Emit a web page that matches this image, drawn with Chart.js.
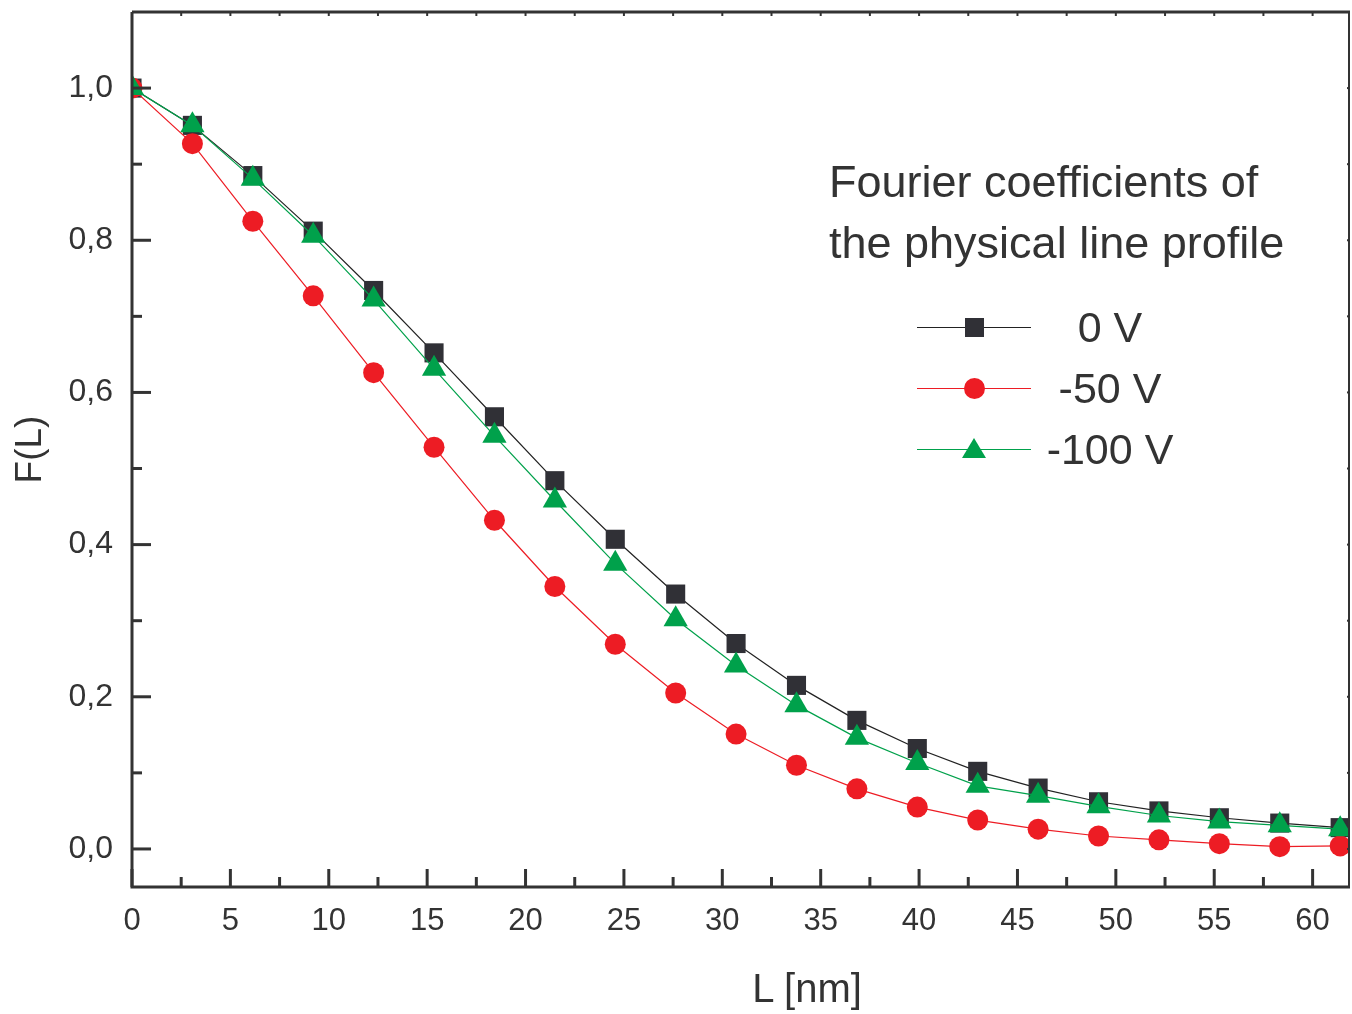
<!DOCTYPE html>
<html>
<head>
<meta charset="utf-8">
<script src="https://cdn.jsdelivr.net/npm/chart.js@4"></script>
<style>
  body { margin: 0; background: #fff; }
  #wrap { position: relative; width: 1352px; height: 1014px; font-family: "Liberation Sans", Arial, sans-serif; color: #333; }
  #note { position: absolute; left: 829px; top: 151px; font-size: 45px; line-height: 61px; white-space: nowrap; }
  #xtitle { position: absolute; left: 707px; width: 200px; top: 964px; text-align: center; font-size: 40px; line-height: 48px; }
  .row { position: absolute; left: 917px; height: 40px; width: 300px; }
  .row .ln { position: absolute; left: 0; top: 20px; width: 114px; height: 0; border-top: 1px solid; }
  .row .mk { position: absolute; }
  .row .tx { position: absolute; left: 118px; width: 150px; top: -3px; text-align: center; font-size: 43px; line-height: 46px; white-space: nowrap; }
</style>
</head>
<body>
<div id="wrap">
  <canvas id="myChart" width="1352" height="1014"></canvas>
  <div id="note">Fourier coefficients of<br>the physical line profile</div>
  <div id="xtitle">L [nm]</div>
  <div id="legend"></div>
</div>
<script>
// L values (nm)
const lValues = [0, 3.07, 6.14, 9.21, 12.28, 15.35, 18.42, 21.49, 24.56, 27.63, 30.70,
                 33.77, 36.84, 39.91, 42.98, 46.05, 49.12, 52.19, 55.26, 58.33, 61.40];

// F(L) for each bias voltage
const f0V = [1.0, 0.951, 0.885, 0.812, 0.734, 0.652, 0.568, 0.484, 0.407, 0.335, 0.270,
             0.215, 0.169, 0.132, 0.102, 0.080, 0.062, 0.050, 0.041, 0.034, 0.028];
const f50V = [1.0, 0.927, 0.825, 0.727, 0.626, 0.528, 0.432, 0.345, 0.269, 0.205, 0.151,
              0.110, 0.079, 0.055, 0.038, 0.026, 0.017, 0.012, 0.007, 0.003, 0.004];
const f100V = [1.0, 0.951, 0.881, 0.806, 0.722, 0.631, 0.543, 0.458, 0.375, 0.302, 0.241,
               0.189, 0.146, 0.113, 0.083, 0.070, 0.056, 0.044, 0.036, 0.031, 0.026];

const seriesLabels = ['0 V', '-50 V', '-100 V'];
const xTickValues = [0, 5, 10, 15, 20, 25, 30, 35, 40, 45, 50, 55, 60];
const yTickValues = [0, 0.2, 0.4, 0.6, 0.8, 1.0];

const axisColor = '#333';
const colors = ['#303036', '#ed1c24', '#00a14b'];
const lineColors = ['#222', '#ed1c24', '#00a14b'];

function toPoints(ys) {
    return lValues.map((x, i) => ({ x: x, y: ys[i] }));
}

// frame + inward tick marks, placed through the scales
const frameTicks = {
    id: 'frameTicks',
    afterDatasetsDraw(chart) {
        const { ctx, chartArea: a, scales: { x, y } } = chart;
        ctx.save();
        ctx.strokeStyle = axisColor;
        ctx.lineCap = 'butt';

        // bottom ticks
        ctx.lineWidth = 3;
        for (let v = 0; v <= 61; v += 2.5) {
            const px = x.getPixelForValue(v);
            const len = (v % 5 === 0) ? 18 : 10;
            ctx.beginPath(); ctx.moveTo(px, a.bottom); ctx.lineTo(px, a.bottom - len); ctx.stroke();
        }
        // left ticks
        for (let i = 0; i <= 10; i++) {
            const py = y.getPixelForValue(i / 10);
            const len = (i % 2 === 0) ? 19 : 10;
            ctx.beginPath(); ctx.moveTo(a.left, py); ctx.lineTo(a.left + len, py); ctx.stroke();
        }
        // top ticks (short)
        ctx.lineWidth = 2;
        for (let v = 2.5; v <= 61; v += 2.5) {
            const px = x.getPixelForValue(v);
            ctx.beginPath(); ctx.moveTo(px, a.top); ctx.lineTo(px, a.top + 4); ctx.stroke();
        }
        // right ticks (short)
        for (let i = 0; i <= 10; i++) {
            const py = y.getPixelForValue(i / 10);
            ctx.beginPath(); ctx.moveTo(a.right, py); ctx.lineTo(a.right - 3, py); ctx.stroke();
        }

        // frame
        ctx.lineWidth = 3;
        ctx.beginPath();
        ctx.moveTo(a.left, a.top); ctx.lineTo(a.left, a.bottom); ctx.lineTo(a.right, a.bottom);
        ctx.stroke();
        ctx.beginPath(); ctx.moveTo(a.left, a.top); ctx.lineTo(a.right, a.top); ctx.stroke();
        ctx.lineWidth = 2;
        ctx.beginPath(); ctx.moveTo(a.right - 1, a.top); ctx.lineTo(a.right - 1, a.bottom); ctx.stroke();
        ctx.restore();
    }
};

const ctx = document.getElementById('myChart');
const myChart = new Chart(ctx, {
    type: 'line',
    data: {
        datasets: [
            { label: seriesLabels[0], data: toPoints(f0V), order: 2,
              borderColor: lineColors[0], backgroundColor: colors[0],
              pointStyle: 'rect', pointRadius: 13.5, borderWidth: 1.2, pointBorderWidth: 0 },
            { label: seriesLabels[1], data: toPoints(f50V), order: 1,
              borderColor: lineColors[1], backgroundColor: colors[1],
              pointStyle: 'circle', pointRadius: 10.5, borderWidth: 1.2, pointBorderWidth: 0 },
            { label: seriesLabels[2], data: toPoints(f100V), order: 0,
              borderColor: lineColors[2], backgroundColor: colors[2],
              pointStyle: 'triangle', pointRadius: 14, borderWidth: 1.2, pointBorderWidth: 0 }
        ]
    },
    options: {
        responsive: false,
        animation: false,
        layout: { autoPadding: false, padding: { top: 12, right: 2, left: 0, bottom: 0 } },
        plugins: { legend: { display: false }, tooltip: { enabled: false } },
        scales: {
            x: {
                type: 'linear', min: 0, max: 61.9,
                grid: { display: false, drawTicks: false },
                border: { display: false },
                afterBuildTicks: s => { s.ticks = xTickValues.map(v => ({ value: v })); },
                afterFit: s => { s.height = 127; s.paddingLeft = 0; s.paddingRight = 0; },
                ticks: { color: axisColor, padding: 16, maxRotation: 0,
                         font: { family: 'Liberation Sans', size: 31 } },
                title: { display: false }
            },
            y: {
                type: 'linear', min: -0.05, max: 1.1,
                grid: { display: false, drawTicks: false },
                border: { display: false },
                afterBuildTicks: s => { s.ticks = yTickValues.map(v => ({ value: v })); },
                afterFit: s => { s.width = 132; s.paddingTop = 0; s.paddingBottom = 0; },
                ticks: { color: axisColor, padding: 19,
                         callback: v => v.toFixed(1).replace('.', ','),
                         font: { family: 'Liberation Sans', size: 32 } },
                title: { display: true, text: 'F(L)', color: axisColor,
                         padding: { top: 9, bottom: 0 },
                         font: { family: 'Liberation Sans', size: 37 } }
            }
        }
    },
    plugins: [frameTicks]
});

// legend rows built from the datasets
const legendRows = [327, 388, 449];
const legendEl = document.getElementById('legend');
seriesLabels.forEach((label, i) => {
    const row = document.createElement('div');
    row.className = 'row';
    row.style.top = (legendRows[i] - 20) + 'px';
    const ln = document.createElement('div');
    ln.className = 'ln';
    ln.style.borderTopColor = lineColors[i];
    const mk = document.createElement('div');
    mk.className = 'mk';
    if (i === 0) {
        Object.assign(mk.style, { left: '48px', top: '11px', width: '19px', height: '19px', background: colors[0] });
    } else if (i === 1) {
        Object.assign(mk.style, { left: '47px', top: '10px', width: '21px', height: '21px', borderRadius: '50%', background: colors[1] });
    } else {
        Object.assign(mk.style, { left: '45px', top: '9px', width: '24px', height: '20px', background: colors[2],
                                  clipPath: 'polygon(50% 0, 100% 100%, 0 100%)' });
    }
    const tx = document.createElement('div');
    tx.className = 'tx';
    tx.textContent = label;
    row.appendChild(ln);
    row.appendChild(mk);
    row.appendChild(tx);
    legendEl.appendChild(row);
});
</script>
</body>
</html>
